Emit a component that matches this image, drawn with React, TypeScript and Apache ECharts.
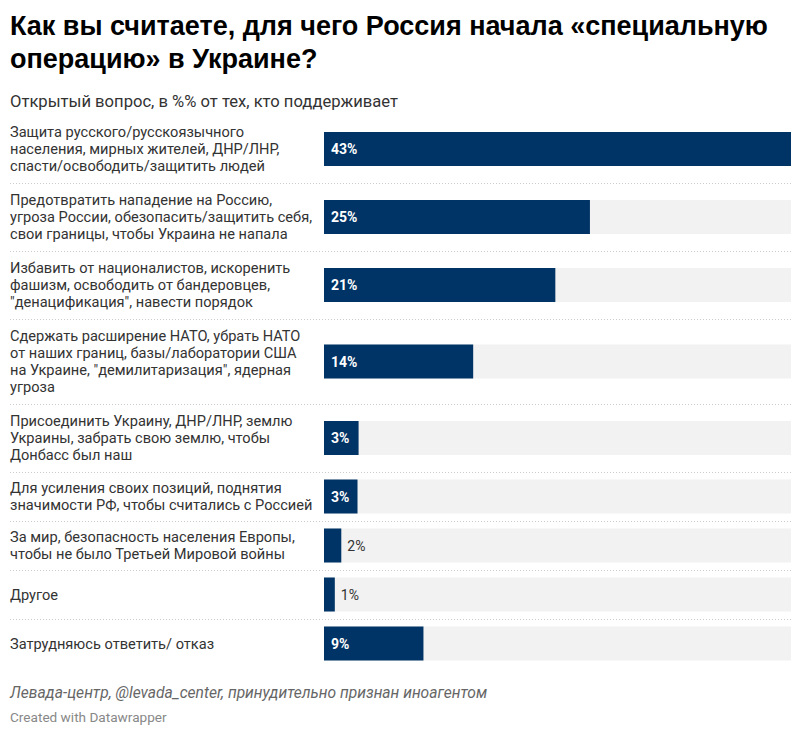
import React, { useEffect, useRef } from "react";
import * as echarts from "echarts";

const titleLines = [
  "Как вы считаете, для чего Россия начала «специальную",
  "операцию» в Украине?",
];
const subtitle = "Открытый вопрос, в %% от тех, кто поддерживает";
const sourceNote = "Левада-центр, @levada_center, принудительно признан иноагентом";
const creditNote = "Created with Datawrapper";

const categories = [
  "Защита русского/русскоязычного\nнаселения, мирных жителей, ДНР/ЛНР,\nспасти/освободить/защитить людей",
  "Предотвратить нападение на Россию,\nугроза России, обезопасить/защитить себя,\nсвои границы, чтобы Украина не напала",
  "Избавить от националистов, искоренить\nфашизм, освободить от бандеровцев,\n\"денацификация\", навести порядок",
  "Сдержать расширение НАТО, убрать НАТО\nот наших границ, базы/лаборатории США\nна Украине, \"демилитаризация\", ядерная\nугроза",
  "Присоединить Украину, ДНР/ЛНР, землю\nУкраины, забрать свою землю, чтобы\nДонбасс был наш",
  "Для усиления своих позиций, поднятия\nзначимости РФ, чтобы считались с Россией",
  "За мир, безопасность населения Европы,\nчтобы не было Третьей Мировой войны",
  "Другое",
  "Затрудняюсь ответить/ отказ",
];

const values = [43.2, 24.6, 21.4, 13.8, 3.2, 3.1, 1.6, 1.0, 9.2];

export default function App() {
  const ref = useRef<HTMLDivElement>(null);
  useEffect(() => {
    if (!ref.current) return;
    const chart = echarts.init(ref.current, null, { renderer: "svg" });

    const ROW_START = 115;
    const BAR_H = 34;
    const LEFT = 324;
    const RIGHT = 791;
    let y = ROW_START;
    const rows = categories.map((c) => {
      const lines = c.split("\n").length;
      const h = lines >= 3 ? lines * 17 + 17 : 49;
      const r = { top: y, h };
      y += h;
      return r;
    });
    const maxV = Math.max(...values);

    const grids = rows.map((r) => ({
      left: LEFT,
      width: RIGHT - LEFT,
      top: r.top + (r.h - BAR_H) / 2,
      height: BAR_H,
      containLabel: false,
    }));
    const xAxes = rows.map((_, i) => ({
      type: "value",
      gridIndex: i,
      min: 0,
      max: maxV,
      show: false,
    }));
    const yAxes = categories.map((c, i) => ({
      type: "category",
      gridIndex: i,
      data: [c],
      axisLine: { show: false },
      axisTick: { show: false },
      splitLine: { show: false },
      axisLabel: {
        align: "left",
        margin: LEFT - 10,
        fontSize: 14.6,
        lineHeight: 17,
        color: "#333333",
        fontFamily: "Roboto",
      },
    }));
    const series = values.map((v, i) => {
      const inside = v >= 2.5;
      return {
        type: "bar",
        xAxisIndex: i,
        yAxisIndex: i,
        data: [v],
        barWidth: "100%",
        showBackground: true,
        backgroundStyle: { color: "#f2f2f2" },
        itemStyle: { color: "#003366" },
        label: {
          show: true,
          position: inside ? "insideLeft" : "right",
          distance: inside ? 7 : 6,
          formatter: (p: any) => Math.round(p.value) + "%",
          fontFamily: "Roboto",
          fontSize: 14,
          fontWeight: inside ? "bold" : "normal",
          color: inside ? "#ffffff" : "#333333",
        },
      };
    });

    const separators = rows.slice(1).map((r) => ({
      type: "line",
      shape: { x1: 10, y1: r.top + 0.5, x2: RIGHT, y2: r.top + 0.5 },
      style: { stroke: "#cccccc", lineWidth: 1, lineDash: [1, 2] },
      silent: true,
    }));

    const texts = [
      {
        type: "text",
        style: {
          x: 10,
          y: 26,
          text: titleLines[0],
          font: 'bold 27px "Liberation Sans", Arial, sans-serif',
          fill: "#000000",
          verticalAlign: "middle",
        },
      },
      {
        type: "text",
        style: {
          x: 10,
          y: 59,
          text: titleLines[1],
          font: 'bold 27px "Liberation Sans", Arial, sans-serif',
          fill: "#000000",
          verticalAlign: "middle",
        },
      },
      {
        type: "text",
        style: {
          x: 10,
          y: 101,
          text: subtitle,
          font: '16.6px Roboto, sans-serif',
          fill: "#333333",
          verticalAlign: "middle",
        },
      },
      {
        type: "text",
        style: {
          x: 10,
          y: 693,
          text: sourceNote,
          font: 'italic 15.6px Roboto, sans-serif',
          fill: "#666666",
          verticalAlign: "middle",
        },
      },
      {
        type: "text",
        style: {
          x: 10,
          y: 717,
          text: creditNote,
          font: '13.6px Roboto, sans-serif',
          fill: "#888888",
          verticalAlign: "middle",
        },
      },
    ];

    chart.setOption({
      animation: false,
      backgroundColor: "#ffffff",
      grid: grids,
      xAxis: xAxes,
      yAxis: yAxes,
      series,
      graphic: [...separators, ...texts],
    });
    return () => chart.dispose();
  }, []);
  return (
    <div
      ref={ref}
      style={{ position: "fixed", left: 0, top: 0, width: 803, height: 732 }}
    />
  );
}
